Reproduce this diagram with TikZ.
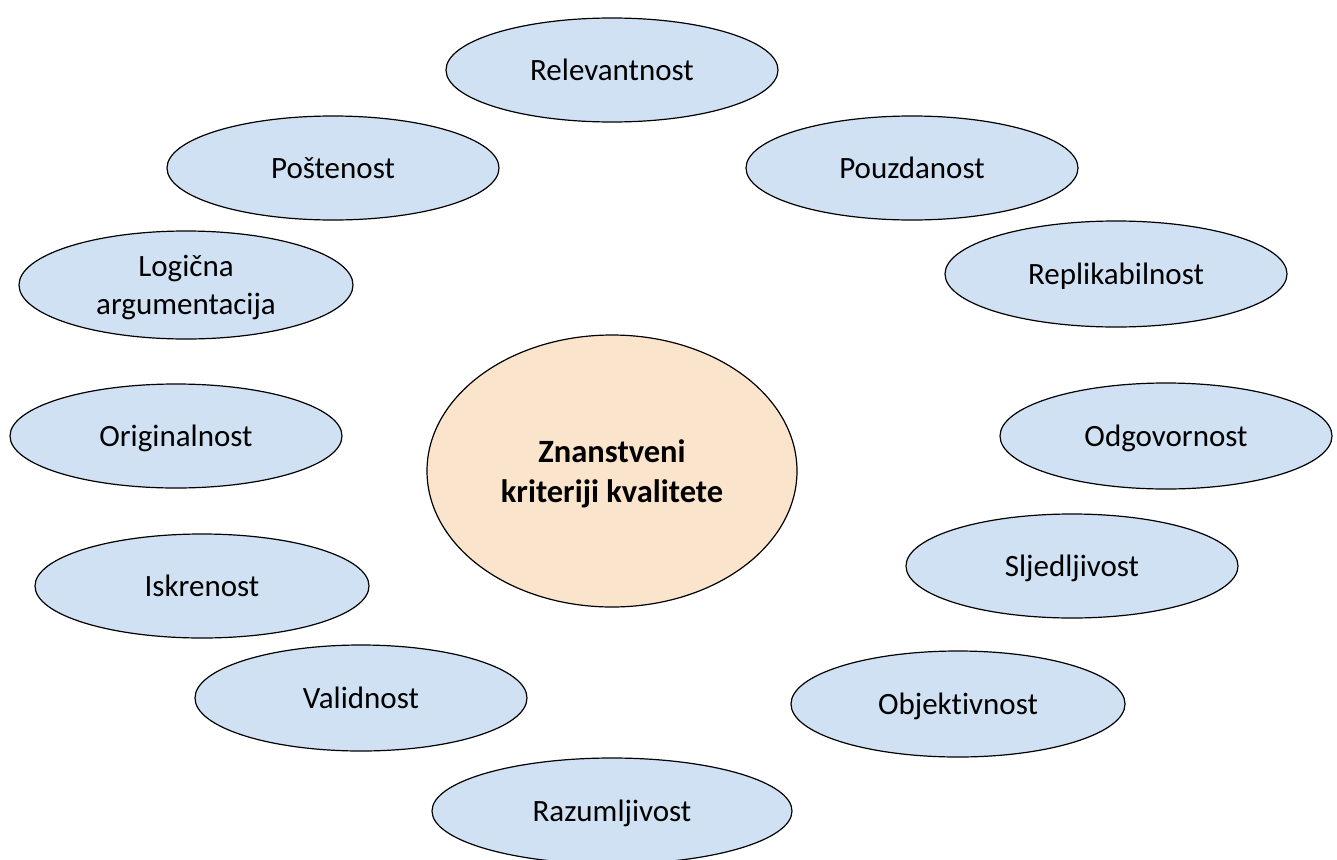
\documentclass[tikz,border=0pt]{standalone}
\usepackage{fontspec}
\setmainfont{Carlito}[Ligatures=NoCommon]
\usetikzlibrary{shapes.geometric}
\definecolor{critblue}{HTML}{CFE1F3}
\definecolor{corepeach}{HTML}{FBE4CC}
\tikzset{
  crit/.style={ellipse, draw=black, line width=1.2pt, fill=critblue, inner sep=0pt,
    align=center, font=\fontsize{31}{38}\selectfont, text depth=0pt},
  oneline/.style={text height=20pt},
  core/.style={ellipse, draw=black, line width=1.2pt, fill=corepeach, inner sep=0pt,
    align=center, font=\fontsize{32.5}{40}\selectfont\bfseries, text depth=0pt}
}
\begin{document}
\begin{tikzpicture}[x=1pt,y=-1pt]
\clip (0,0) rectangle (1337,859);
\fill[white] (0,0) rectangle (1337,859);
\node[crit, oneline, minimum width=332pt, minimum height=104pt] (rel) at (612,70) {Relevantnost};
\node[crit, oneline, minimum width=332pt, minimum height=104pt] (pos) at (333,168) {Poštenost};
\node[crit, oneline, minimum width=332pt, minimum height=104pt] (pou) at (912,168) {Pouzdanost};
\node[crit, minimum width=334pt, minimum height=108pt] (log) at (186,285) {Logična\\argumentacija};
\node[crit, oneline, minimum width=342pt, minimum height=106pt] (rep) at (1116,274) {Replikabilnost};
\node[crit, oneline, minimum width=332pt, minimum height=104pt] (ori) at (176,436) {Originalnost};
\node[crit, oneline, minimum width=332pt, minimum height=106pt] (odg) at (1166,436) {Odgovornost};
\node[core, minimum width=370pt, minimum height=272pt] (core) at (612,471) {Znanstveni\\kriteriji kvalitete};
\node[crit, oneline, minimum width=334pt, minimum height=104pt] (isk) at (202,586) {Iskrenost};
\node[crit, oneline, minimum width=332pt, minimum height=104pt] (slj) at (1072,566) {Sljedljivost};
\node[crit, oneline, minimum width=332pt, minimum height=106pt] (val) at (361,698) {Validnost};
\node[crit, oneline, minimum width=334pt, minimum height=106pt] (obj) at (958,704) {Objektivnost};
\node[crit, oneline, minimum width=360pt, minimum height=106pt] (raz) at (612,811) {Razumljivost};
\end{tikzpicture}
\end{document}
